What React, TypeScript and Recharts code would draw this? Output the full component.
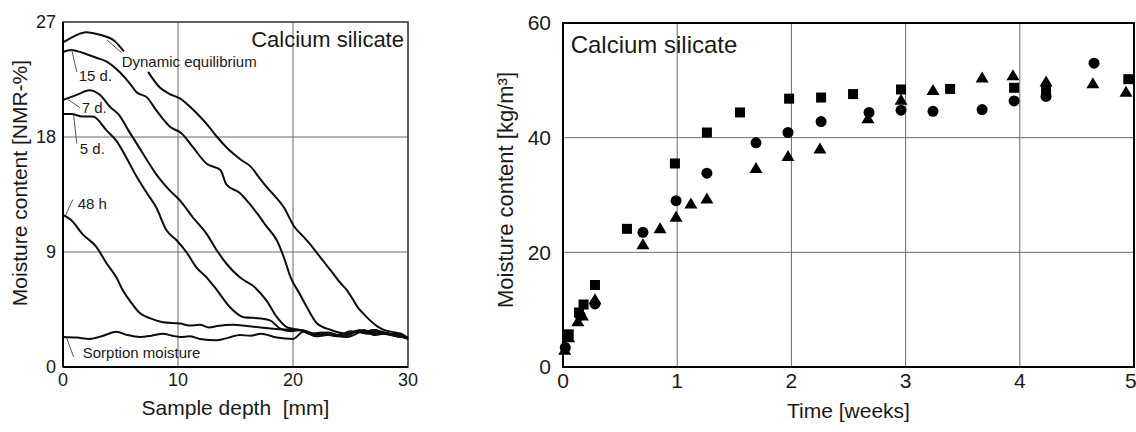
import React from 'react';
import {
  LineChart,
  Line,
  ScatterChart,
  Scatter,
  XAxis,
  YAxis,
  CartesianGrid,
  ReferenceArea,
  ReferenceLine,
  ReferenceDot,
} from 'recharts';

// ---- left panel: moisture profiles (depth [mm], NMR-%) ----
const DEPTH_TICKS = [0, 10, 20, 30];
const NMR_TICKS = [0, 9, 18, 27];

const dynamicEquilibrium: [number, number | null][] = [
  [0, 25.4], [1, 25.9], [2, 26.2], [3.2, 26.0], [4.5, 25.5], [5.3, 24.7], [6.3, null],
  [7.4, 23.1], [8.4, 21.9], [9.2, 21.4], [10.2, 21.0], [11.0, 20.4], [11.9, 19.6],
  [12.7, 18.8], [13.4, 18.0], [14.1, 17.3], [14.8, 16.7], [15.5, 16.2], [16.3, 15.7],
  [17.0, 14.9], [17.7, 14.1], [18.5, 13.3], [19.2, 12.5], [20.1, 11.0], [20.9, 10.2],
  [21.5, 9.6], [22.1, 8.9], [22.8, 8.1], [23.5, 7.3], [24.1, 6.6], [24.7, 6.0],
  [25.2, 5.3], [25.6, 4.7], [26.2, 4.1], [26.7, 3.65], [27.3, 3.2], [27.9, 2.9],
  [28.6, 2.75], [29.4, 2.6], [30, 2.2],
];
const fifteenDays: [number, number][] = [
  [0, 24.65], [0.7, 24.8], [1.3, 24.7], [2, 24.5], [2.9, 24.2], [3.8, 23.9], [4.9, 23.1],
  [5.8, 22.2], [6.4, 21.5], [7.3, 21.1], [8.1, 20.1], [8.7, 19.4], [9.3, 18.8],
  [10.3, 18.3], [11.3, 17.2], [12.5, 15.9], [13.7, 15.4], [14.2, 14.3], [15.4, 13.6],
  [16.2, 12.8], [16.9, 12.0], [17.7, 11.0], [18.6, 9.9], [19.2, 8.6], [19.8, 7.0],
  [20.6, 5.7], [21.2, 4.7], [22.1, 3.4], [23.3, 2.9], [24.7, 2.6], [25.6, 2.8],
  [26.5, 2.7], [27.2, 2.9], [27.9, 2.6], [29, 2.5], [30, 2.2],
];
const sevenDays: [number, number][] = [
  [0, 20.9], [1.2, 21.3], [2.3, 21.65], [3.2, 21.3], [4.1, 20.35], [4.9, 19.7], [5.7, 18.5],
  [6.4, 17.5], [7.3, 16.2], [8.1, 15.1], [9.3, 13.8], [10.2, 13.0], [11.3, 11.7],
  [12.5, 10.4], [13.4, 9.1], [14.2, 8.1], [15.4, 7.0], [16.6, 6.3], [17.7, 5.2],
  [18.6, 3.9], [19.5, 3.1], [20.6, 2.9], [21.5, 2.6], [22.5, 2.7], [23.5, 2.5],
  [24.5, 2.4], [25.5, 2.8], [26.5, 2.6], [27.5, 2.8], [28.5, 2.5], [30, 2.3],
];
const fiveDays: [number, number][] = [
  [0, 19.8], [0.7, 19.8], [1.7, 19.6], [2.6, 19.6], [3.8, 18.5], [4.65, 17.7], [5.5, 16.4],
  [6.4, 14.9], [7.3, 13.6], [8.1, 12.5], [9.0, 10.7], [9.9, 9.9], [10.8, 8.9],
  [11.6, 7.8], [12.5, 7.0], [13.4, 6.0], [14.5, 4.7], [15.7, 3.9], [17.2, 3.8],
  [18.0, 3.65], [18.9, 3.0], [19.8, 2.8], [20.7, 2.9], [21.8, 2.5], [22.8, 2.6],
  [23.8, 2.4], [24.8, 2.5], [25.8, 2.9], [26.8, 2.6], [28, 2.7], [29, 2.4], [30, 2.3],
];
const fortyEightHours: [number, number][] = [
  [0, 11.9], [0.7, 11.5], [1.7, 10.4], [2.9, 9.4], [3.8, 8.1], [4.65, 7.0], [5.2, 6.0],
  [5.8, 5.2], [6.7, 4.2], [7.6, 3.8], [8.7, 3.5], [10.2, 3.4], [11.0, 3.25], [11.9, 3.3],
  [12.7, 3.1], [13.4, 3.2], [14.8, 3.3], [16.0, 3.2], [17.2, 3.1], [18.3, 3.0], [20, 2.9],
  [20.9, 2.85], [22, 2.6], [23, 2.7], [24, 2.5], [25, 2.8], [26, 2.7], [27, 2.9],
  [28, 2.6], [29, 2.6], [30, 2.3],
];
const sorptionMoisture: [number, number][] = [
  [0, 2.35], [1.2, 2.3], [2.3, 2.2], [3.5, 2.45], [4.65, 2.75], [5.6, 2.5], [6.7, 2.35],
  [7.7, 2.45], [8.7, 2.6], [9.5, 2.45], [10.2, 2.35], [11.0, 2.4], [11.9, 2.2],
  [13.4, 2.1], [14.4, 2.3], [15.4, 2.5], [16.3, 2.45], [17.2, 2.6], [18.6, 2.3],
  [20.0, 2.2], [20.9, 2.75], [22, 2.4], [23.0, 2.5], [24.7, 2.35], [25.5, 2.6],
  [26.2, 2.9], [27, 2.5], [27.9, 2.6], [29, 2.5], [30, 2.2],
];

const PROFILES = [
  { key: 'dyn', points: dynamicEquilibrium },
  { key: '15d', points: fifteenDays },
  { key: '7d', points: sevenDays },
  { key: '5d', points: fiveDays },
  { key: '48h', points: fortyEightHours },
  { key: 'sorp', points: sorptionMoisture },
];

// curve labels: leader line (from, to) and text anchor, in data units
const PROFILE_LABELS = [
  { text: 'Dynamic equilibrium', from: [3.8, 25.6], to: [5.1, 24.6], at: [5.1, 23.9] },
  { text: '15 d.', from: [0.76, 24.8], to: [1.2, 23.1], at: [1.37, 22.8] },
  { text: '7 d.', from: [0.32, 21.0], to: [1.46, 20.3], at: [1.63, 20.3] },
  { text: '5 d.', from: [0.93, 19.7], to: [1.2, 17.5], at: [1.46, 17.1] },
  { text: '48 h', from: [0.24, 11.9], to: [0.85, 13.1], at: [1.28, 12.75] },
  { text: 'Sorption moisture', from: [0.32, 2.27], to: [0.93, 0.78], at: [1.72, 1.1] },
];

// ---- right panel: moisture uptake over time ----
const WEEK_TICKS = [0, 1, 2, 3, 4, 5];
const KG_TICKS = [0, 20, 40, 60];

const squares: [number, number][] = [
  [0.05, 5.7], [0.14, 9.5], [0.18, 10.9], [0.28, 14.3], [0.56, 24.1], [0.98, 35.5],
  [1.26, 40.9], [1.55, 44.4], [1.98, 46.8], [2.26, 47.0], [2.54, 47.6], [2.96, 48.4],
  [3.39, 48.5], [3.95, 48.7], [4.23, 48.3], [4.95, 50.2],
];
const circles: [number, number][] = [
  [0.02, 3.4], [0.15, 9.0], [0.28, 11.0], [0.70, 23.5], [0.99, 29.0], [1.26, 33.8],
  [1.69, 39.1], [1.97, 40.9], [2.26, 42.8], [2.68, 44.4], [2.96, 44.8], [3.24, 44.6],
  [3.67, 44.9], [3.95, 46.4], [4.23, 47.2], [4.65, 53.0],
];
const triangles: [number, number][] = [
  [0.015, 3.0], [0.05, 5.2], [0.13, 8.0], [0.17, 9.0], [0.28, 11.8], [0.70, 21.4],
  [0.85, 24.2], [0.99, 26.2], [1.12, 28.5], [1.26, 29.4], [1.69, 34.7], [1.97, 36.8],
  [2.25, 38.1], [2.67, 43.4], [2.96, 46.6], [3.24, 48.3], [3.67, 50.5], [3.94, 50.9],
  [4.23, 49.8], [4.64, 49.5], [4.93, 48.0],
];

const toXY = (pts: [number, number | null][]) => pts.map(([x, y]) => ({ x, y }));

const FONT = '"Liberation Sans", Arial, sans-serif';
const INK = '#1a1a1a';

const Square = (p: any) => <rect x={p.cx - 5} y={p.cy - 5} width={10} height={10} fill="#000" />;
const Circle = (p: any) => <circle cx={p.cx} cy={p.cy} r={5.5} fill="#000" />;
const Triangle = (p: any) => (
  <polygon
    points={`${p.cx},${p.cy - 6} ${p.cx + 6.5},${p.cy + 5} ${p.cx - 6.5},${p.cy + 5}`}
    fill="#000"
  />
);

function ProfileChart() {
  return (
    <LineChart width={420} height={432} margin={{ top: 22, right: 12, bottom: 0, left: 0 }}>
      <CartesianGrid stroke="#6a6a6a" strokeWidth={1} />
      <XAxis
        type="number"
        dataKey="x"
        domain={[0, 30]}
        ticks={DEPTH_TICKS}
        height={65}
        tickSize={0}
        tickMargin={6}
        axisLine={{ stroke: '#000', strokeWidth: 2 }}
        tick={{ fill: INK, fontSize: 18 }}
        label={{
          value: 'Sample depth\u00a0\u00a0[mm]',
          position: 'center',
          dy: 8.5,
          fill: INK,
          fontSize: 21,
        }}
      />
      <YAxis
        type="number"
        dataKey="y"
        domain={[0, 27]}
        ticks={NMR_TICKS}
        width={63}
        tickSize={0}
        tickMargin={7}
        axisLine={{ stroke: '#000', strokeWidth: 2 }}
        tick={{ fill: INK, fontSize: 18 }}
        label={{
          value: 'Moisture content [NMR-%]',
          angle: -90,
          position: 'center',
          dx: -11.5,
          dy: -11.5,
          fill: INK,
          fontSize: 21,
        }}
      />
      <ReferenceArea x1={0} x2={30} y1={0} y2={27} fill="none" stroke="#444" strokeWidth={1.5} />
      {PROFILES.map((p) => (
        <Line
          key={p.key}
          data={toXY(p.points)}
          dataKey="y"
          type="monotone"
          stroke="#0d0d0d"
          strokeWidth={2}
          dot={false}
          activeDot={false}
          connectNulls={false}
          isAnimationActive={false}
        />
      ))}
      {PROFILE_LABELS.map((l) => (
        <ReferenceLine
          key={'l' + l.text}
          segment={[
            { x: l.from[0], y: l.from[1] },
            { x: l.to[0], y: l.to[1] },
          ]}
          stroke="#555"
          strokeWidth={1}
        />
      ))}
      {PROFILE_LABELS.map((l) => (
        <ReferenceDot
          key={'t' + l.text}
          x={l.at[0]}
          y={l.at[1]}
          r={0}
          fill="none"
          stroke="none"
          label={{ value: l.text, position: 'right', offset: 0, fill: INK, fontSize: 15 }}
        />
      ))}
      <ReferenceDot
        x={29.65}
        y={25.65}
        r={0}
        fill="none"
        stroke="none"
        label={{ value: 'Calcium silicate', position: 'left', offset: 0, fill: INK, fontSize: 22 }}
      />
    </LineChart>
  );
}

function UptakeChart() {
  return (
    <ScatterChart width={656} height={432} margin={{ top: 23, right: 2, bottom: 0, left: 0 }}>
      <CartesianGrid stroke="#6a6a6a" strokeWidth={1} />
      <XAxis
        type="number"
        dataKey="x"
        domain={[0, 5]}
        ticks={WEEK_TICKS}
        height={65}
        tickSize={0}
        tickMargin={6}
        axisLine={{ stroke: '#000', strokeWidth: 2 }}
        tick={{ fill: INK, fontSize: 21 }}
        label={{ value: 'Time [weeks]', position: 'center', dy: 11.5, fill: INK, fontSize: 21 }}
      />
      <YAxis
        type="number"
        dataKey="y"
        domain={[0, 60]}
        ticks={KG_TICKS}
        width={83}
        tickSize={0}
        tickMargin={12}
        axisLine={{ stroke: '#000', strokeWidth: 2 }}
        tick={{ fill: INK, fontSize: 21 }}
        label={{
          value: 'Moisture content [kg/m³]',
          angle: -90,
          position: 'center',
          dx: -16.5,
          dy: -5,
          fill: INK,
          fontSize: 22,
        }}
      />
      <ReferenceArea x1={0} x2={5} y1={0} y2={60} fill="none" stroke="#000" strokeWidth={2} />
      <Scatter data={toXY(squares)} shape={Square} isAnimationActive={false} />
      <Scatter data={toXY(circles)} shape={Circle} isAnimationActive={false} />
      <Scatter data={toXY(triangles)} shape={Triangle} isAnimationActive={false} />
      <ReferenceDot
        x={0.067}
        y={56.2}
        r={0}
        fill="none"
        stroke="none"
        label={{ value: 'Calcium silicate', position: 'right', offset: 0, fill: INK, fontSize: 24 }}
      />
    </ScatterChart>
  );
}

export default function App() {
  return (
    <div
      style={{
        position: 'absolute',
        left: 0,
        top: 0,
        width: 1136,
        height: 432,
        background: '#fff',
        fontFamily: FONT,
        overflow: 'hidden',
      }}
    >
      <div style={{ position: 'absolute', left: 0, top: 0 }}>
        <ProfileChart />
      </div>
      <div style={{ position: 'absolute', left: 480, top: 0 }}>
        <UptakeChart />
      </div>
    </div>
  );
}
